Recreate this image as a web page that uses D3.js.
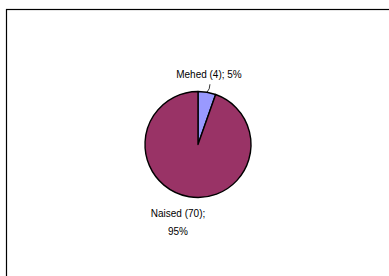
<!DOCTYPE html>
<html>
<head>
<meta charset="utf-8">
<script src="https://cdn.jsdelivr.net/npm/d3@7"></script>
<style>
  body { margin: 0; background: #fff; }
  svg { display: block; }
  text { font-family: "Liberation Sans", Arial, sans-serif; font-size: 10px; fill: #000; }
</style>
</head>
<body>
<svg id="chart" width="389" height="276"></svg>
<script>
// data
var categories = ['Mehed', 'Naised'];
var counts = [4, 70];
var percents = ['5%', '95%'];
var colors = ['#9999ff', '#993366'];

var svg = d3.select('#chart');

// outer chart frame (runs off the right and bottom edge)
svg.append('rect')
  .attr('x', 6.5)
  .attr('y', 9.5)
  .attr('width', 400)
  .attr('height', 300)
  .attr('fill', '#fff')
  .attr('stroke', '#000')
  .attr('stroke-width', 1.2);

var cx = 198, cy = 144.5, r = 53;

var data = categories.map(function(c, i) {
  return { name: c, value: counts[i], pct: percents[i], color: colors[i] };
});

var pie = d3.pie().sort(null).value(function(d) { return d.value; });
var arc = d3.arc().innerRadius(0).outerRadius(r);

var g = svg.append('g').attr('transform', 'translate(' + cx + ',' + cy + ')');

var slices = pie(data);

g.selectAll('path.slice')
  .data(slices)
  .enter().append('path')
  .attr('class', 'slice')
  .attr('d', arc)
  .attr('fill', function(d) { return d.data.color; })
  .attr('stroke', '#000')
  .attr('stroke-width', 1.4)
  .attr('stroke-linejoin', 'round');

// Mehed label above, with a short leader line
var m = slices[0];
var mid = (m.startAngle + m.endAngle) / 2;
var px = Math.sin(mid) * r, py = -Math.cos(mid) * r;
g.append('path')
  .attr('d', 'M' + px + ',' + py + ' Q' + (px + 3) + ',' + (py - 3) + ' ' + (px + 3) + ',' + (py - 8))
  .attr('fill', 'none')
  .attr('stroke', '#000')
  .attr('stroke-width', 0.8);

g.append('text')
  .attr('x', px + 2)
  .attr('y', py - 14)
  .attr('text-anchor', 'middle')
  .text(m.data.name + ' (' + m.data.value + '); ' + m.data.pct);

// Naised label below-left, two lines
var n = slices[1];
var lbl = g.append('text')
  .attr('text-anchor', 'middle')
  .attr('transform', 'translate(-20,72)');
lbl.append('tspan').attr('x', 0).attr('dy', 0).text(n.data.name + ' (' + n.data.value + ');');
lbl.append('tspan').attr('x', 0).attr('dy', 18).text(n.data.pct);
</script>
</body>
</html>
